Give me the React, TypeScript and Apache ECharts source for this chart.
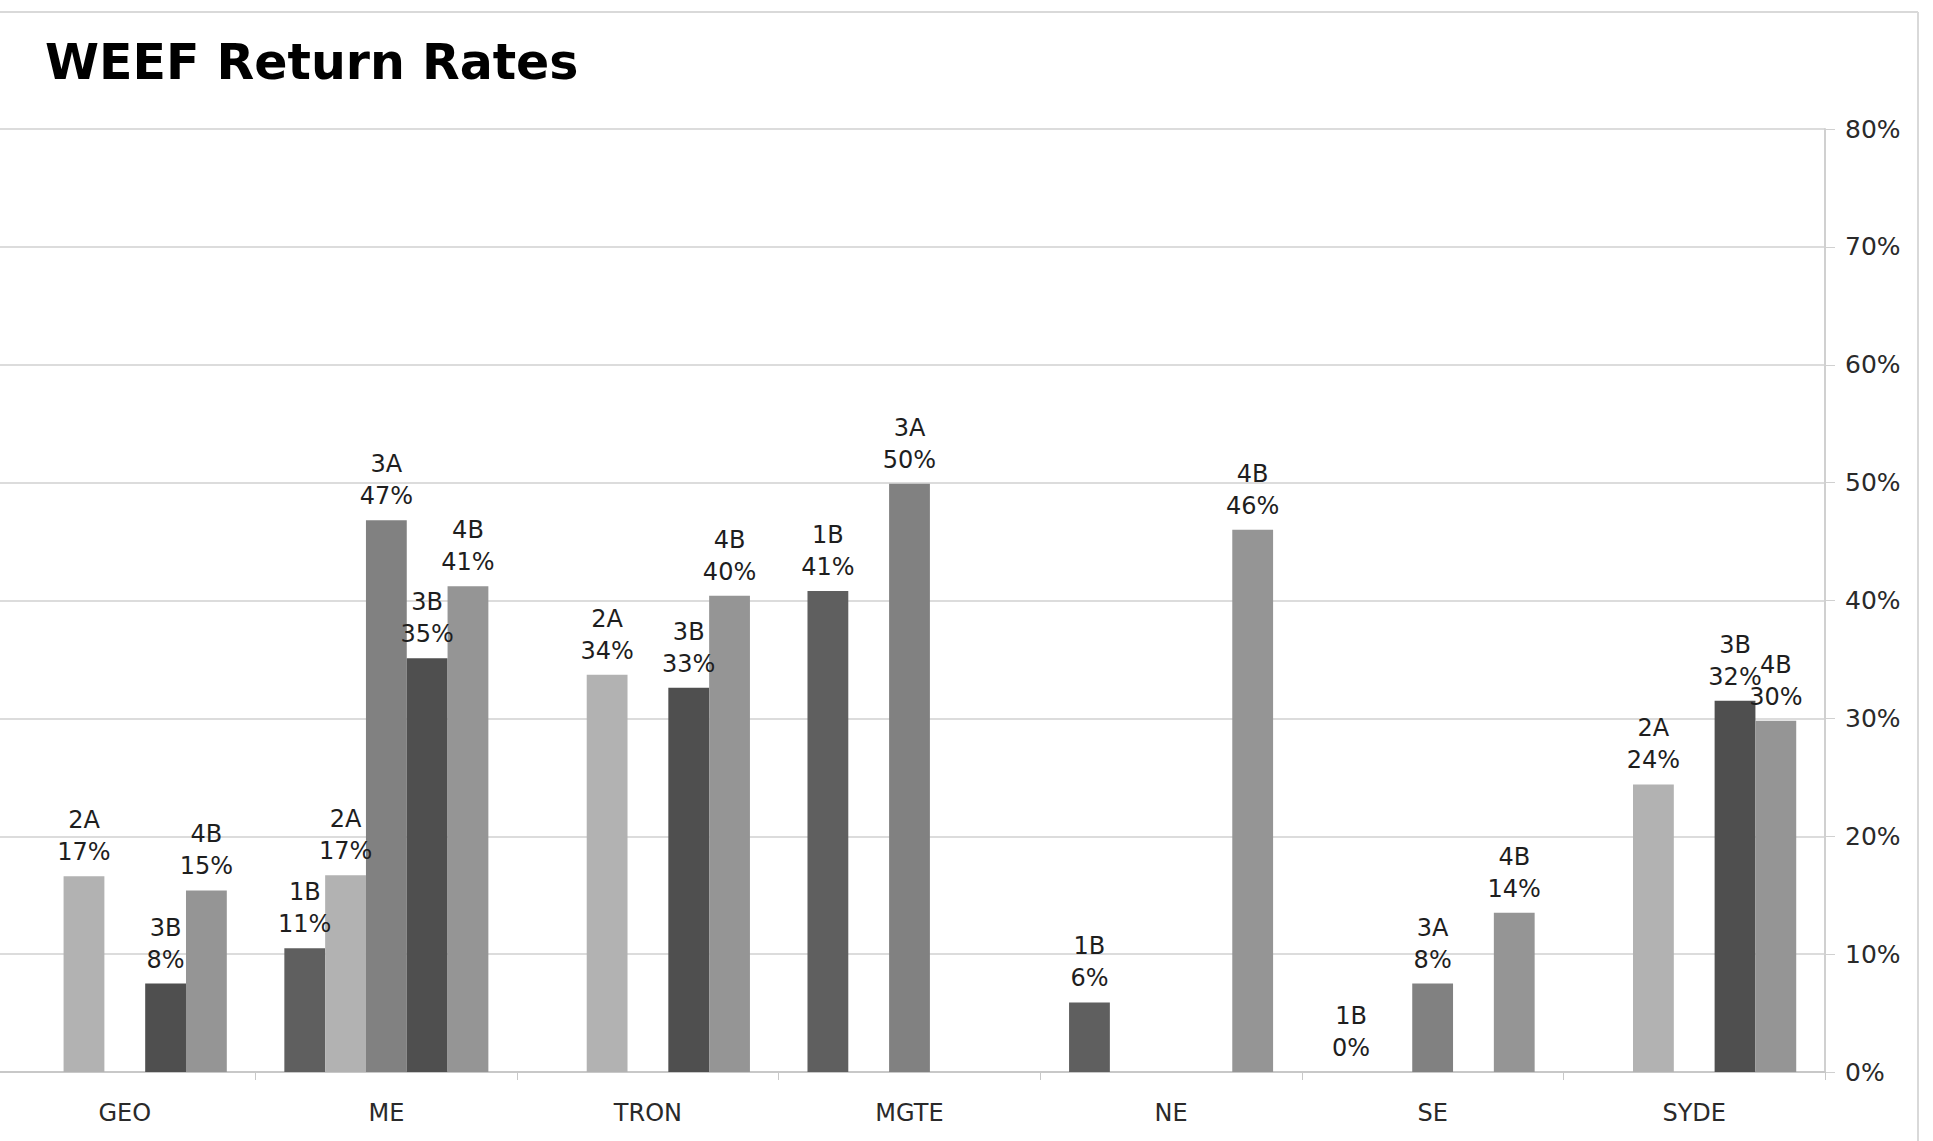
import React, { useEffect, useRef } from "react";
import * as echarts from "echarts";

const categories = ["GEO", "ME", "TRON", "MGTE", "NE", "SE", "SYDE"];
const seriesNames = ["1B", "2A", "3A", "3B", "4B"];
const values1B = [null, 10.5, null, 40.8, 5.9, 0, null];
const values2A = [16.6, 16.7, 33.7, null, null, null, 24.4];
const values3A = [null, 46.8, null, 49.9, null, 7.5, null];
const values3B = [7.5, 35.1, 32.6, null, null, null, 31.5];
const values4B = [15.4, 41.2, 40.4, null, 46.0, 13.5, 29.8];
const yTicks = [0, 10, 20, 30, 40, 50, 60, 70, 80];
const seriesColors = ["#5f5f5f", "#b2b2b2", "#818181", "#4f4f4f", "#959595"];

const SHIFT = 6;

export default function App() {
  const ref = useRef<HTMLDivElement>(null);
  useEffect(() => {
    if (!ref.current) return;
    const chart = echarts.init(ref.current, null, { renderer: "svg" });
    const allValues = [values1B, values2A, values3A, values3B, values4B];
    chart.setOption({
      animation: false,
      backgroundColor: "#ffffff",
      title: {
        text: "WEEF Return Rates",
        left: 40 + SHIFT,
        top: 33,
        textStyle: {
          fontFamily: "DejaVu Sans",
          fontWeight: "bold",
          fontSize: 49,
          color: "#000000",
        },
      },
      graphic: [
        { type: "line", shape: { x1: 0, y1: 12, x2: 1918 + SHIFT, y2: 12 }, style: { stroke: "#d9d9d9", lineWidth: 2 } },
        { type: "line", shape: { x1: 1918 + SHIFT, y1: 12, x2: 1918 + SHIFT, y2: 1141 }, style: { stroke: "#d9d9d9", lineWidth: 2 } },
      ],
      grid: { left: 0, right: 108, top: 129, bottom: 69, containLabel: false },
      xAxis: {
        type: "category",
        data: categories,
        axisLine: { show: true, lineStyle: { color: "#c8c8c8", width: 2 } },
        axisTick: { show: true, interval: 0, length: 8, lineStyle: { color: "#c8c8c8" } },
        axisLabel: {
          interval: 0,
          margin: 29,
          fontFamily: "DejaVu Sans",
          fontSize: 24,
          color: "#2a2a2a",
        },
      },
      yAxis: {
        type: "value",
        position: "right",
        min: yTicks[0],
        max: yTicks[yTicks.length - 1],
        interval: 10,
        axisLine: { show: true, lineStyle: { color: "#d0d0d0", width: 2 } },
        axisTick: { show: true, length: 10, lineStyle: { color: "#d0d0d0" } },
        splitLine: { show: true, lineStyle: { color: "#dcdcdc", width: 2 } },
        axisLabel: {
          margin: 20,
          fontFamily: "DejaVu Sans",
          fontSize: 25,
          color: "#2a2a2a",
          formatter: (v: number) => `${v}%`,
        },
      },
      series: seriesNames.map((name, i) => ({
        name,
        type: "bar",
        data: allValues[i].map((v) => (v === null ? "-" : v)),
        barGap: "0%",
        barCategoryGap: "22%",
        itemStyle: { color: seriesColors[i] },
        label: {
          show: true,
          position: "top",
          distance: 8,
          fontFamily: "DejaVu Sans",
          fontSize: 24,
          lineHeight: 32,
          color: "#1e1e1e",
          formatter: (p: any) =>
            typeof p.value === "number" ? `${p.seriesName}\n${Math.round(p.value)}%` : "",
        },
      })),
    });
    return () => chart.dispose();
  }, []);
  return (
    <div
      ref={ref}
      style={{ position: "absolute", left: -SHIFT, top: 0, width: 1933 + SHIFT, height: 1141 }}
    />
  );
}
